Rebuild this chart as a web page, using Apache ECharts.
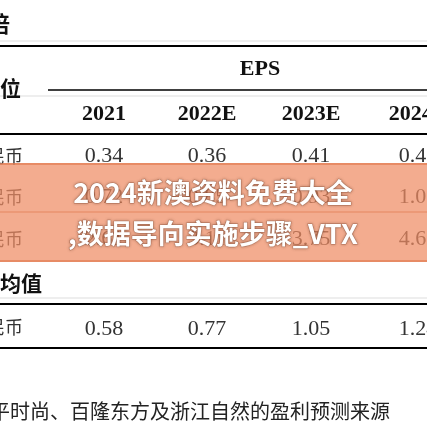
<!DOCTYPE html>
<html><head><meta charset="utf-8">
<script src="https://cdn.jsdelivr.net/npm/echarts@6/dist/echarts.min.js"></script>
<style>html,body{margin:0;padding:0;background:#fff}#c{width:427px;height:427px}</style>
</head><body><div id="c"></div>
<script>
const years = ['2021', '2022E', '2023E', '2024E'];
const rowLabels = ['人民币', '人民币', '人民币'];
const rowValues = [
    ['0.34', '0.36', '0.41', '0.46'],
    ['0.72', '0.85', '0.93', '1.06'],
    ['2.61', '3.11', '3.75', '4.62'],
];
const avgLabel = '平均值';
const avgValues = ['0.58', '0.77', '1.05', '1.24'];
const overlayLines = ['2024新澳资料免费大全', ',数据导向实施步骤_VTX'];
const footer = '平时尚、百隆东方及浙江自然的盈利预测来源';

const colX = [104, 207, 311, 418];
const rowY = [156, 197, 239];
const serif = '"Liberation Serif", "Noto Sans CJK SC", serif';
const cjk = '"Noto Sans CJK SC", sans-serif';

const txt = (x, y, text, o = {}) => ({
    type: 'text', x, y,
    style: {text, fill: '#111', font: `${o.w || 'normal'} ${o.s || 19}px ${o.f || serif}`,
        align: o.a || 'center', verticalAlign: 'middle', ...(o.st || {})},
    z: o.z || 1,
});
const line = (x1, y, x2, w, color = '#000') => ({
    type: 'line', shape: {x1, y1: y, x2, y2: y}, style: {stroke: color, lineWidth: w},
});

const els = [];
els.push(txt(-12, 24, '倍', {a: 'left', s: 22, f: cjk, w: 'bold'}));
els.push(line(0, 41, 427, 1, '#ddd'));
els.push(line(0, 46, 427, 2));
els.push(txt(260, 69, 'EPS', {w: 'bold', s: 22}));
els.push(txt(-21, 88, '单位', {a: 'left', s: 21, f: cjk, w: 'bold'}));
els.push(line(48, 90, 427, 1.5));
els.push(line(0, 96, 427, 1, '#ddd'));
years.forEach((y, i) => els.push(txt(colX[i], 114, y, {w: 'bold', s: 22})));
els.push(line(0, 134, 427, 2));
rowLabels.forEach((l, r) => {
    els.push(txt(-31, rowY[r], l, {a: 'left', s: 18, f: cjk, st: {fill: '#333'}}));
    rowValues[r].forEach((v, i) => els.push(txt(colX[i], rowY[r], v, {s: 22, st: {fill: '#333'}})));
});
els.push(txt(-21, 283, avgLabel, {a: 'left', s: 21, f: cjk, w: 'bold'}));
els.push(line(0, 298, 427, 1, '#ddd'));
els.push(line(0, 304, 427, 2));
els.push(txt(-31, 327, rowLabels[0], {a: 'left', s: 18, f: cjk, st: {fill: '#333'}}));
avgValues.forEach((v, i) => els.push(txt(colX[i], 329, v, {s: 22, st: {fill: '#333'}})));
els.push(line(0, 348, 427, 2));
els.push(txt(-10, 411, footer, {a: 'left', s: 20, f: cjk, st: {fill: '#222', font: 'normal 20px "Noto Sans CJK SC"'}}));

// overlay banner
els.push({type: 'rect', shape: {x: 0, y: 163, width: 427, height: 99},
    style: {fill: 'rgba(238,140,100,0.72)'}, z: 5});
els.push(line(0, 164, 427, 2, 'rgba(200,110,70,0.8)'));
els.push(line(0, 261, 427, 2, 'rgba(200,110,70,0.8)'));
els.push(line(0, 212, 427, 1.5, 'rgba(200,110,70,0.6)'));
overlayLines.forEach((t, i) => els.push(txt(213, 193 + i * 41, t, {
    s: 27, w: 'bold', f: cjk, z: 6,
    st: {fill: '#fff', stroke: 'rgba(120,60,40,0.35)', lineWidth: 1,
        textShadowColor: 'rgba(80,40,20,0.5)', textShadowBlur: 3},
})));

const chart = echarts.init(document.getElementById('c'));
chart.setOption({animation: false, graphic: els});
</script></body></html>
